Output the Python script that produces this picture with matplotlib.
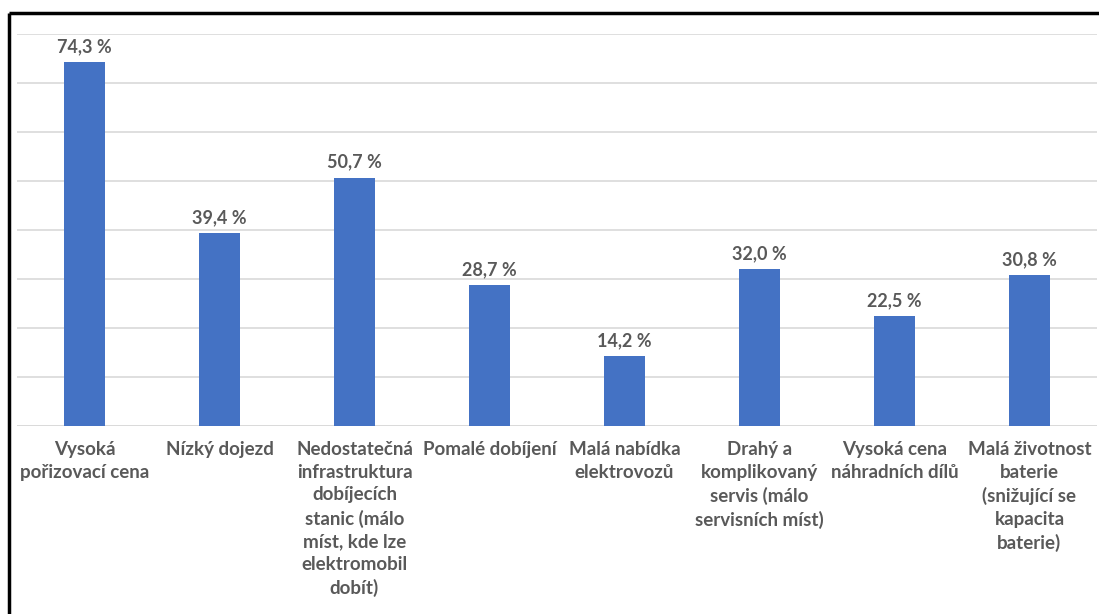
import matplotlib.pyplot as plt
from matplotlib.lines import Line2D

categories = ["Vysoká\npořizovací cena", "Nízký dojezd",
              "Nedostatečná\ninfrastruktura\ndobíjecích\nstanic (málo\nmíst, kde lze\nelektromobil\ndobít)",
              "Pomalé dobíjení", "Malá nabídka\nelektrovozů",
              "Drahý a\nkomplikovaný\nservis (málo\nservisních míst)",
              "Vysoká cena\nnáhradních dílů",
              "Malá životnost\nbaterie\n(snižující se\nkapacita\nbaterie)"]
values = [74.3, 39.4, 50.7, 28.7, 14.2, 32.0, 22.5, 30.8]
value_labels = ["74,3 %", "39,4 %", "50,7 %", "28,7 %", "14,2 %", "32,0 %", "22,5 %", "30,8 %"]

plt.rcParams['font.family'] = ['Lato', 'DejaVu Sans']

fig = plt.figure(figsize=(10.99, 6.14), dpi=100)
ax = fig.add_axes([17/1099, 1 - 426/614, 1080/1099, 392/614])

x = range(len(categories))
bars = ax.bar(x, values, width=0.31, color='#4472C4', zorder=3)
for b, lab in zip(bars, value_labels):
    ax.annotate(lab, (b.get_x() + b.get_width()/2, b.get_height()), xytext=(0, 5),
                textcoords='offset points', ha='center', va='bottom',
                fontsize=13, fontweight='bold', color='#595959')

ax.set_xlim(-0.5, len(categories) - 0.5)
ax.set_ylim(0, 80)
ax.set_yticks(range(0, 90, 10))
ax.yaxis.grid(True, color='#D9D9D9', linewidth=1.2, zorder=0)
ax.set_xticks(list(x))
ax.set_xticklabels(categories, fontsize=13.5, fontweight='bold', color='#595959', linespacing=1.4)
ax.tick_params(axis='x', length=0, pad=11)
ax.tick_params(axis='y', length=0, labelleft=False)
ax.set_frame_on(False)
ax.axhline(0, color='#D9D9D9', linewidth=1.2, zorder=1)

# frame: only top and left edges are visible in the picture
top = 1 - 13/614
left = 9/1099
fig.add_artist(Line2D([left, 1.05], [top, top], transform=fig.transFigure, color='black',
                      linewidth=2.5, solid_capstyle='butt'))
fig.add_artist(Line2D([left, left], [-0.05, top], transform=fig.transFigure, color='black',
                      linewidth=2.5, solid_capstyle='butt'))

plt.savefig('out.png', dpi=100)
